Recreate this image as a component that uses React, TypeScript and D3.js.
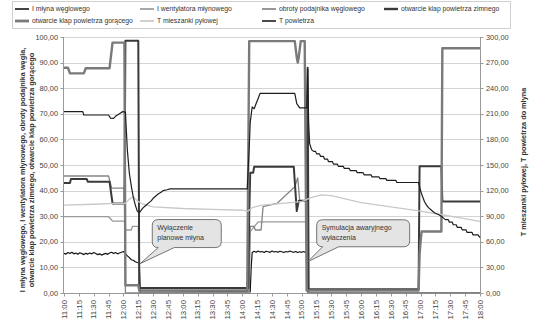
import React from 'react';
import * as d3 from 'd3';

// ---------- DATA ----------
const timeTicks = ['11:00','11:15','11:30','11:45','12:00','12:15','12:30','12:45','13:00','13:15','13:30','13:45','14:00','14:15','14:30','14:45','15:00','15:15','15:30','15:45','16:00','16:15','16:30','16:45','17:00','17:15','17:30','17:45','18:00'];
const leftTicks = [0,10,20,30,40,50,60,70,80,90,100];
const rightTicks = [0,30,60,90,120,150,180,210,240,270,300];

const seriesNames = ['I młyna węglowego','I wentylatora młynowego','obroty podajnika węglowego','otwarcie klap powietrza zimnego','otwarcie klap powietrza gorącego','T mieszanki pyłowej','T powietrza'];

const iMlyna: [string, number][] = [
  ['11:00',15.5],['11:02',15.2],['11:04',15.8],['11:06',15.4],['11:08',15.9],['11:10',15.3],['11:12',15.6],['11:14',15.1],['11:16',15.7],['11:18',15.4],['11:20',15.0],['11:22',15.5],['11:24',15.2],['11:26',15.6],['11:28',15.3],['11:30',15.8],['11:32',15.4],['11:34',15.0],['11:36',15.3],['11:38',14.8],['11:40',15.2],['11:42',15.5],['11:44',15.1],['11:46',15.6],['11:48',15.9],['11:50',15.4],['11:52',15.8],['11:54',15.3],['11:56',15.6],['11:58',15.9],['12:00',16.2],['12:02',15.4],['12:04',14.5],['12:06',13.8],['12:08',13.0],['12:10',12.8],['12:12',12.2],['12:14',11.9],['12:16',11.7],['12:17',0.3],
  ['14:05',0.5],['14:06',14.2],['14:07',3],['14:08',0.4],['14:09',10],['14:10',15.8],['14:12',16.3],['14:14',15.9],['14:16',16.4],['14:18',16.0],['14:20',16.2],['14:22',15.8],['14:24',16.3],['14:26',16.1],['14:28',15.9],['14:30',16.4],['14:32',16.0],['14:34',16.2],['14:36',15.9],['14:38',16.3],['14:40',16.1],['14:42',15.8],['14:44',16.2],['14:46',16.0],['14:48',16.4],['14:50',16.1],['14:52',15.9],['14:54',16.2],['14:56',15.8],['14:58',16.1],['15:00',15.9],['15:02',16.2],['15:04',15.8],['15:05',15.6],['15:06',12.2],['15:07',0.2],['18:00',0.2]
];

const iWentylatora: [string, number][] = [
  ['11:00',29.8],['11:45',29.8],['11:47',29],['11:49',28.1],['12:01',28.1],['12:02',24.6],['12:08',24.6],['12:09',26],['12:15',26],['12:16',0],
  ['14:06',0],['14:08',24],['14:16',27.8],['15:04',27.8],['15:06',0],['18:00',0]
];

const obrotyPodajnika: [string, number][] = [
  ['11:00',45.7],['11:45',45.7],['11:48',41],['12:01',41],['12:02',0],
  ['14:07',0],['14:08',26],['14:12',26],['14:13',24.6],['14:19',24.6],['14:21',33.7],['14:35',35],['14:53',41.5],['14:56',45],['14:58',36],['15:05',36],['15:06',0],['18:00',0]
];

const klapyZimne: [string, number][] = [
  ['11:00',43],['11:06',43],['11:07',44.5],['11:23',44.5],['11:24',43.5],['11:46',43.5],['11:49',35],['12:01',35],['12:02',98.5],['12:15',98.5],['12:16',2],
  ['14:06',2],['14:07',30],['14:08',47],['14:11',47],['14:12',49.3],['14:52',49.3],['14:55',32],['14:57',36],['15:05',36],['15:06',88],['15:07',1.5],
  ['16:58',1.5],['16:59',49.5],['17:21',49.5],['17:22',35.7],['18:00',35.7]
];

const klapyGorace: [string, number][] = [
  ['11:00',88],['11:04',88],['11:06',85.8],['11:20',85.8],['11:22',87.8],['11:46',87.8],['11:49',97.8],['12:01',97.8],['12:02',3],['12:15',3],['12:16',1],
  ['14:05',1],['14:07',98.4],['14:53',98.4],['14:55',92],['14:56',90],['14:57',92],['14:59',98.4],['15:03',98.4],['15:05',1],
  ['16:58',1],['16:59',15],['17:00',20],['17:01',24],['17:21',24],['17:22',95.6],['18:00',95.6]
];

const tMieszanki: [string, number][] = [
  ['11:00',103],['11:30',104],['11:50',105],['12:02',105],['12:06',110],['12:10',113],['12:14',108],['12:20',104],['12:30',101],['13:00',99],['13:30',98],['14:00',97],['14:06',96],
  ['14:10',100],['14:20',103],['14:40',105],['15:00',107],['15:10',112],['15:20',115],['15:30',114],['15:45',110],['16:00',106],['16:30',101],['17:00',96],['17:20',92],['17:40',88],['18:00',84]
];

const tPowietrza: [string, number][] = [
  ['11:00',212.5],['11:19',212.5],['11:20',208.6],['11:45',208.6],['11:47',205],['11:50',204.7],['11:52',207],['11:54',208.6],['11:56',210],['11:59',212.5],['12:02',212],
  ['12:04',167],['12:06',140],['12:08',125],['12:10',112],['12:12',103],['12:14',96],['12:16',94],['12:18',97],['12:20',100],['12:22',102],['12:25',105],['12:28',108],['12:30',111],['12:33',114],['12:35',116],['12:38',118],['12:40',120],['12:44',121],['12:47',122],
  ['14:05',122],['14:07',170],['14:08',200],['14:10',218],['14:12',216],['14:14',222],['14:16',228],['14:18',234],['14:53',234],['14:55',222],['14:58',217],['15:05',217],['15:06',262],['15:07',200],['15:08',175],
  ['15:10',168],['15:12',166],['15:14',166],['15:15',163],['15:18',163],['15:19',160],['15:22',160],['15:23',157],['15:26',157],['15:27',154],['15:31',154],['15:32',151],['15:36',151],['15:37',148.5],['15:42',148.5],['15:43',146],['15:48',146],['15:49',143.5],['15:55',143.5],['15:56',141],['16:02',141],['16:03',138.5],['16:10',138.5],['16:11',136],['16:18',136],['16:19',134],['16:25',134],['16:26',132],['16:35',132],['16:36',129.5],['16:58',129.5],
  ['17:00',120],['17:02',113],['17:04',107],['17:06',103],['17:08',100],['17:11',97],['17:14',94],['17:18',92],['17:21',90],['17:23',88],['17:25',86],['17:28',86],['17:29',83],['17:32',83],['17:33',80],['17:36',80],['17:37',77],['17:41',77],['17:42',74],['17:46',74],['17:47',71],['17:52',71],['17:53',68],['17:58',68],['18:00',65]
];

const annotations = [
  { lines: ['Wyłączenie', 'planowe młyna'], time: '12:17', value: 11.5, dx: 12, dy: -44, w: 69, h: 28 },
  { lines: ['Symulacja awaryjnego', 'wyłaczenia'], time: '15:06', value: 12.2, dx: 9, dy: -42, w: 93, h: 27 },
];

// ---------- HELPERS ----------
const tm = (s: string) => { const [h, m] = s.split(':').map(Number); return (h - 11) * 60 + m; };
const fmt = (v: number) => v.toFixed(2).replace('.', ',');

const W = 543, H = 333;
const X0 = 64, X1 = 480, Y0 = 293, Y1 = 37;
const x = d3.scaleLinear().domain([0, 420]).range([X0, X1]);
const yL = d3.scaleLinear().domain([0, 100]).range([Y0, Y1]);
const yR = d3.scaleLinear().domain([0, 300]).range([Y0, Y1]);

type S = { name: string; data: [string, number][]; right: boolean; color: string; width: number };
const series: S[] = [
  { name: seriesNames[0], data: iMlyna, right: false, color: '#151515', width: 1.2 },
  { name: seriesNames[1], data: iWentylatora, right: false, color: '#9a9a9a', width: 1.3 },
  { name: seriesNames[2], data: obrotyPodajnika, right: false, color: '#858585', width: 1.3 },
  { name: seriesNames[3], data: klapyZimne, right: false, color: '#3a3a3a', width: 2 },
  { name: seriesNames[4], data: klapyGorace, right: false, color: '#7a7a7a', width: 2.4 },
  { name: seriesNames[5], data: tMieszanki, right: true, color: '#c8c8c8', width: 1.3 },
  { name: seriesNames[6], data: tPowietrza, right: true, color: '#1e1e1e', width: 1.2 },
];

const legendPos = [[15, 9], [140, 9], [262, 9], [384, 9], [15, 21], [140, 21], [262, 21]];

export default function App() {
  const font = 'Liberation Sans, Arial, sans-serif';
  return (
    <svg width={W} height={H} style={{ position: 'absolute', left: 0, top: 0, background: '#fff' }} fontFamily={font}>
      <rect x={0} y={0} width={W} height={H} fill="#fff" />
      {/* legend */}
      <rect x={12.5} y={1.5} width={498} height={27} fill="#fff" stroke="#cfcfcf" />
      {series.map((s, i) => (
        <g key={s.name}>
          <line x1={legendPos[i][0]} x2={legendPos[i][0] + 14} y1={legendPos[i][1]} y2={legendPos[i][1]} stroke={s.color} strokeWidth={s.width + 0.4} />
          <text x={legendPos[i][0] + 17} y={legendPos[i][1] + 2.4} fontSize={6.8} fill="#333">{s.name}</text>
        </g>
      ))}
      {/* grid */}
      {leftTicks.map(v => (
        <line key={'g' + v} x1={X0} x2={X1} y1={Math.round(yL(v)) + 0.5} y2={Math.round(yL(v)) + 0.5} stroke="#d4d4d4" strokeWidth={1} />
      ))}
      {/* axes */}
      <line x1={X0 - 0.5} x2={X0 - 0.5} y1={Y1} y2={Y0 + 0.5} stroke="#9a9a9a" />
      <line x1={X1 + 0.5} x2={X1 + 0.5} y1={Y1} y2={Y0 + 0.5} stroke="#9a9a9a" />
      <line x1={X0 - 0.5} x2={X1 + 0.5} y1={Y0 + 0.5} y2={Y0 + 0.5} stroke="#9a9a9a" />
      {leftTicks.map(v => (
        <g key={'l' + v}>
          <line x1={X0 - 3.5} x2={X0 - 0.5} y1={Math.round(yL(v)) + 0.5} y2={Math.round(yL(v)) + 0.5} stroke="#9a9a9a" />
          <text x={58} y={yL(v) + 2.6} textAnchor="end" fontSize={7.4} fill="#444">{fmt(v)}</text>
        </g>
      ))}
      {rightTicks.map(v => (
        <g key={'r' + v}>
          <line x1={X1 + 0.5} x2={X1 + 3.5} y1={Math.round(yR(v)) + 0.5} y2={Math.round(yR(v)) + 0.5} stroke="#9a9a9a" />
          <text x={486} y={yR(v) + 2.6} textAnchor="start" fontSize={7.4} fill="#444">{fmt(v)}</text>
        </g>
      ))}
      {timeTicks.map(t => {
        const xx = x(tm(t));
        return (
          <g key={'t' + t}>
            <line x1={Math.round(xx) + 0.5} x2={Math.round(xx) + 0.5} y1={Y0 + 0.5} y2={Y0 + 3.5} stroke="#9a9a9a" />
            <text transform={`translate(${xx + 2.7},${300}) rotate(-90)`} textAnchor="end" fontSize={7.8} fill="#444">{t}</text>
          </g>
        );
      })}
      {/* axis titles */}
      <text transform={`translate(25,170) rotate(-90)`} textAnchor="middle" fontSize={7.3} fontWeight="bold" fill="#333">I młyna węglowego, I wentylatora młynowego, obroty podajnika węgla,</text>
      <text transform={`translate(34,170) rotate(-90)`} textAnchor="middle" fontSize={7.3} fontWeight="bold" fill="#333">otwarcie klap powietrza zimnego, otwarcie klap powietrza gorącego</text>
      <text transform={`translate(526,162) rotate(-90)`} textAnchor="middle" fontSize={7.3} fontWeight="bold" fill="#333">T mieszanki pyłowej, T powietrza do młyna</text>
      {/* series */}
      {series.map(s => {
        const y = s.right ? yR : yL;
        const line = d3.line<[string, number]>().x(d => x(tm(d[0]))).y(d => y(d[1]));
        return <path key={'p' + s.name} d={line(s.data) || ''} fill="none" stroke={s.color} strokeWidth={s.width} strokeLinejoin="round" />;
      })}
      {/* callouts */}
      {annotations.map((a, i) => {
        const tx = x(tm(a.time)), ty = yL(a.value);
        const bx = tx + a.dx, by = ty + a.dy;
        const r = 6;
        const t1 = bx + 6, t2 = bx + 22;
        const p = `M${bx + r},${by} H${bx + a.w - r} Q${bx + a.w},${by} ${bx + a.w},${by + r} V${by + a.h - r} Q${bx + a.w},${by + a.h} ${bx + a.w - r},${by + a.h} H${t2} L${tx},${ty} L${t1},${by + a.h} H${bx + r} Q${bx},${by + a.h} ${bx},${by + a.h - r} V${by + r} Q${bx},${by} ${bx + r},${by} Z`;
        return (
          <g key={'a' + i}>
            <path d={p} fill="#e4e4e4" stroke="#555" strokeWidth={0.8} />
            {a.lines.map((l, j) => (
              <text key={j} x={bx + 5} y={by + 10 + j * 10.5} fontSize={7} fill="#333">{l}</text>
            ))}
          </g>
        );
      })}
    </svg>
  );
}
